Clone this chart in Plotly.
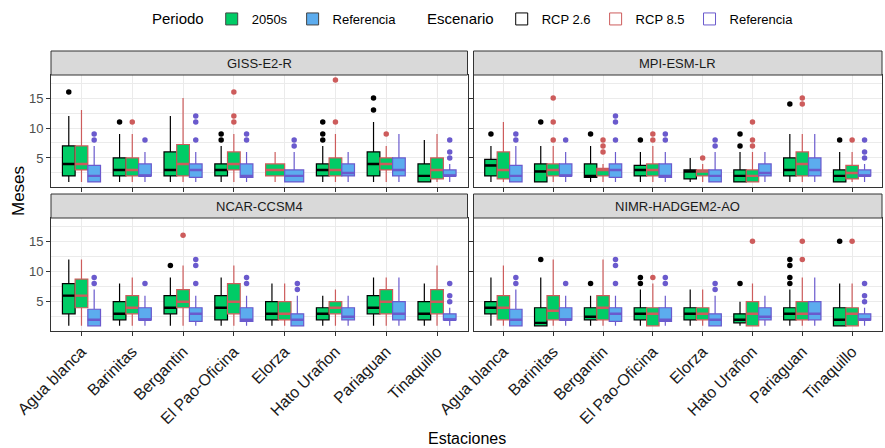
import plotly.graph_objects as go
from plotly.subplots import make_subplots

# ---------------- data ----------------
stations = ["Agua blanca", "Barinitas", "Bergantin", "El Pao-Oficina",
            "Elorza", "Hato Urañon", "Pariaguan", "Tinaquillo"]
models = ["GISS-E2-R", "MPI-ESM-LR", "NCAR-CCSM4", "NIMR-HADGEM2-AO"]
y_ticks = [5, 10, 15]

# box statistics per station: (lower whisker, q1, median, q3, upper whisker)
ref_stats = [(1, 1, 2, 3.75, 7), (1, 2, 2, 4, 6), (1, 1.75, 3, 4, 6), (1, 1.75, 2, 4, 6),
             (1, 1, 2, 3, 6), (1, 2, 2.5, 4, 6), (1, 2, 3, 5, 9), (1, 2, 2, 3, 4)]
ref_out = [[8, 9], [8], [8, 11, 12], [8, 9], [7, 8], [], [], [5, 6, 8]]

giss_rcp26 = [(1, 2, 4, 7, 12), (1, 2, 3, 5, 9), (1, 2, 3, 6, 12), (1, 2, 3, 4, 7),
              None, (1, 2, 3, 4, 7), (1, 2, 4, 6, 11), (1, 1, 2, 4, 8)]
giss_rcp26_out = [[16], [11], [], [8, 9], [], [8, 9, 11], [13, 15], []]
giss_rcp85 = [(1, 3, 4, 7, 13), (1, 2, 3, 5, 9), (1, 2, 4, 7.25, 15), (1, 3, 4, 6, 9),
              (1, 2, 3, 4, 6), (1, 2, 3, 5, 9), (1, 3, 4, 5, 7), (1, 1.5, 3, 5, 9)]
giss_rcp85_out = [[], [11], [], [11, 12, 16], [], [11, 18], [9], []]

mpi_rcp26 = [(1, 2, 3.75, 4.75, 7), (1, 1, 2.75, 4, 7), (1, 1.75, 2, 4, 7), (1, 2, 3, 3.75, 6),
             (1, 1.5, 2.75, 3, 5), (1, 1, 2, 3, 6), (1, 2, 3, 5, 9), (1, 1, 2, 3, 6)]
mpi_rcp26_out = [[9], [11], [9], [8], [], [7, 9], [14], [8]]
mpi_rcp85 = [(1, 1.5, 3, 6, 11), (1, 2, 3, 4, 7), (1, 2, 3, 3.25, 4), (1, 2, 3, 4, 7),
             (1, 2, 2.75, 3, 4), (1, 1, 2, 3, 6), (1, 2, 4, 6, 9), (1, 1.5, 2.5, 3.75, 6)]
mpi_rcp85_out = [[], [8, 11, 15], [6, 7, 8], [8, 9], [5], [7, 8, 11], [14, 15], [8]]

ncar_rcp26 = [(1, 3, 6, 8, 12), (1, 2, 3, 5, 8), (1, 3, 4, 6, 9), (1, 2, 4, 6, 9),
              (1, 2, 3, 5, 8), (1, 2, 3, 4, 6), (1, 3, 4, 6, 9), (1, 2, 3, 5, 8)]
ncar_rcp26_out = [[], [], [11], [], [], [], [], []]
ncar_rcp85 = [(1, 4, 6, 8.75, 12), (1, 3, 4, 6, 9), (1, 4, 5, 7, 11), (1, 3, 5, 8, 11),
              (1, 2, 3, 5, 8), (1, 3, 4, 5, 7), (1, 3, 5, 7, 9), (1, 3, 5, 7, 11)]
ncar_rcp85_out = [[], [], [16], [], [], [], [], []]

nimr_rcp26 = [(1, 3, 4, 5, 9), (1, 1, 1.5, 4, 9), (1, 2, 2.5, 4, 6), (1, 2, 3, 4, 7),
              (1, 2, 3, 4, 7), (1, 1.5, 2, 3, 5), (1, 2, 3, 4, 7), (1, 1, 2, 4, 8)]
nimr_rcp26_out = [[], [12], [8], [8, 9], [], [8], [8, 9, 11, 12], [15]]
nimr_rcp85 = [(1, 2, 4, 6, 11), (1, 2, 3.5, 6, 12), (1, 2, 4, 6, 12), (1, 1, 3, 4, 8),
              (1, 2, 3, 4, 7), (1, 1, 3, 5, 8), (1, 2, 3, 5, 9), (1, 1, 3, 4, 8)]
nimr_rcp85_out = [[], [], [], [9], [], [15], [12, 15], [15]]

model_data = [
    (giss_rcp26, giss_rcp26_out, giss_rcp85, giss_rcp85_out),
    (mpi_rcp26, mpi_rcp26_out, mpi_rcp85, mpi_rcp85_out),
    (ncar_rcp26, ncar_rcp26_out, ncar_rcp85, ncar_rcp85_out),
    (nimr_rcp26, nimr_rcp26_out, nimr_rcp85, nimr_rcp85_out),
]

# ---------------- style ----------------
FILL = {"2050s": "#00CC66", "Referencia": "#5CACEE"}
LINE = {"RCP 2.6": "#000000", "RCP 8.5": "#CD5C5C", "Referencia": "#6A5ACD"}
FONT = "Liberation Sans, Arial, sans-serif"

W, H = 885, 448
ML, MR, MT, MB = 51, 3, 51, 117
PW, PH = W - ML - MR, H - MT - MB
STRIP = 24

def px_x(p):
    return (p - ML) / PW

def px_y(p):
    return (H - MB - p) / PH

x_domains = [[0, px_x(467.5)], [px_x(473.5), 1]]
y_domains = [[px_y(187), px_y(75)], [0, px_y(218)]]

fig = make_subplots(rows=2, cols=2)


def add_group(stats, outs, cats, fill, line, xa, ya, ag, og):
    idx = [i for i, s in enumerate(stats) if s is not None and cats[i] is not None]
    if not idx:
        return
    xcat = [cats[i] for i in idx]
    fig.add_trace(go.Box(
        x=xcat,
        lowerfence=[stats[i][0] for i in idx], q1=[stats[i][1] for i in idx],
        median=[stats[i][2] for i in idx], q3=[stats[i][3] for i in idx],
        upperfence=[stats[i][4] for i in idx],
        fillcolor=fill, line=dict(color=line, width=1.2), whiskerwidth=0,
        boxpoints=False, alignmentgroup=ag, offsetgroup=og,
        xaxis=xa, yaxis=ya, showlegend=False, hoverinfo="skip"))
    # thicker median line drawn on top (ggplot fattens the median)
    med = [stats[i][2] for i in idx]
    fig.add_trace(go.Box(
        x=xcat, lowerfence=med, q1=med, median=med, q3=med, upperfence=med,
        fillcolor="rgba(0,0,0,0)", line=dict(color=line, width=2.4), whiskerwidth=0,
        boxpoints=False, alignmentgroup=ag, offsetgroup=og,
        xaxis=xa, yaxis=ya, showlegend=False, hoverinfo="skip"))
    xs, ys = [], []
    for i in idx:
        for o in outs[i]:
            xs.append(cats[i])
            ys.append(o)
    fig.add_trace(go.Scatter(
        x=xs, y=ys, mode="markers", marker=dict(color=line, size=5.5),
        alignmentgroup=ag, offsetgroup=og, orientation="v",
        xaxis=xa, yaxis=ya, showlegend=False, hoverinfo="skip"))


for k, (r26, r26o, r85, r85o) in enumerate(model_data):
    sfx = "" if k == 0 else str(k + 1)
    xa, ya = "x" + sfx, "y" + sfx
    full = [s if r26[i] is not None else None for i, s in enumerate(stations)]
    part = [s if r26[i] is None else None for i, s in enumerate(stations)]
    add_group(r26, r26o, full, FILL["2050s"], LINE["RCP 2.6"], xa, ya, "main", "RCP 2.6")
    add_group(r85, r85o, full, FILL["2050s"], LINE["RCP 8.5"], xa, ya, "main", "RCP 8.5")
    add_group(ref_stats, ref_out, full, FILL["Referencia"], LINE["Referencia"], xa, ya, "main", "Referencia")
    add_group(r85, r85o, part, FILL["2050s"], LINE["RCP 8.5"], xa, ya, "pair", "p85")
    add_group(ref_stats, ref_out, part, FILL["Referencia"], LINE["Referencia"], xa, ya, "pair", "pref")

# legend-only entries
for name, col in [("2050s", FILL["2050s"]), ("Referencia", FILL["Referencia"])]:
    fig.add_trace(go.Box(y=[None], name=name, fillcolor=col, line=dict(color="#444444", width=1),
                         legend="legend", showlegend=True, alignmentgroup="leg", offsetgroup="leg",
                         xaxis="x", yaxis="y"))
for name in ["RCP 2.6", "RCP 8.5", "Referencia"]:
    fig.add_trace(go.Box(y=[None], name=name, fillcolor="rgba(255,255,255,1)",
                         line=dict(color=LINE[name], width=1),
                         legend="legend2", showlegend=True, alignmentgroup="leg", offsetgroup="leg",
                         xaxis="x", yaxis="y"))

grid = "#EBEBEB"
for k in range(4):
    r, c = divmod(k, 2)
    sfx = "" if k == 0 else str(k + 1)
    fig.layout["xaxis" + sfx].update(
        domain=x_domains[c], type="category", categoryorder="array", categoryarray=stations,
        range=[-0.6, len(stations) - 0.4], showgrid=True, gridcolor=grid, gridwidth=1.1,
        showline=True, mirror=True, linecolor="#333333", linewidth=1,
        ticks="outside", ticklen=4, tickcolor="#333333", tickangle=-45,
        showticklabels=(r == 1), tickfont=dict(family=FONT, size=16, color="#1A1A1A"),
        zeroline=False, anchor="y" + sfx)
    fig.layout["yaxis" + sfx].update(
        domain=y_domains[r], range=[0.15, 18.85], tickvals=y_ticks,
        showgrid=True, gridcolor=grid, gridwidth=1.1,
        minor=dict(dtick=2.5, tick0=0, showgrid=True, gridcolor=grid, gridwidth=0.6),
        showline=True, mirror=True, linecolor="#333333", linewidth=1,
        ticks="outside", ticklen=4, tickcolor="#333333",
        showticklabels=(c == 0), tickfont=dict(family=FONT, size=13, color="#4D4D4D"),
        zeroline=False, anchor="x" + sfx)

shapes, annotations = [], []
for k, m in enumerate(models):
    r, c = divmod(k, 2)
    x0, x1 = x_domains[c]
    ytop = y_domains[r][1]
    y1 = ytop + STRIP / PH
    shapes.append(dict(type="rect", xref="paper", yref="paper", x0=x0, x1=x1, y0=ytop, y1=y1,
                       fillcolor="#D9D9D9", line=dict(color="#333333", width=1), layer="above"))
    annotations.append(dict(text=m, xref="paper", yref="paper", x=(x0 + x1) / 2, y=(ytop + y1) / 2,
                            showarrow=False, font=dict(family=FONT, size=13, color="#1A1A1A"),
                            xanchor="center", yanchor="middle"))
annotations.append(dict(text="Meses", xref="paper", yref="paper", x=px_x(18), y=0.5, textangle=-90,
                        showarrow=False, font=dict(family=FONT, size=17, color="#000000"),
                        xanchor="center", yanchor="middle"))
annotations.append(dict(text="Estaciones", xref="paper", yref="paper", x=0.5, y=px_y(438),
                        showarrow=False, font=dict(family=FONT, size=16, color="#000000"),
                        xanchor="center", yanchor="middle"))

fig.update_layout(
    width=W, height=H, margin=dict(l=ML, r=MR, t=MT, b=MB),
    paper_bgcolor="white", plot_bgcolor="white",
    boxmode="group", boxgap=0.25, boxgroupgap=0.0,
    scattermode="group", scattergap=0.25,
    shapes=shapes, annotations=annotations,
    font=dict(family=FONT, color="#000000"),
    legend=dict(title=dict(text="Periodo", font=dict(size=15, family=FONT)),
                orientation="h", x=px_x(150), xanchor="left", y=px_y(19), yanchor="middle",
                font=dict(size=13, family=FONT), bgcolor="rgba(0,0,0,0)"),
    legend2=dict(title=dict(text="Escenario", font=dict(size=15, family=FONT)),
                 orientation="h", x=px_x(425), xanchor="left", y=px_y(19), yanchor="middle",
                 font=dict(size=13, family=FONT), bgcolor="rgba(0,0,0,0)"),
)

fig.write_html("out.html", config={"displayModeBar": False},
               post_script="document.body.style.margin='0';document.body.style.overflow='hidden';")
